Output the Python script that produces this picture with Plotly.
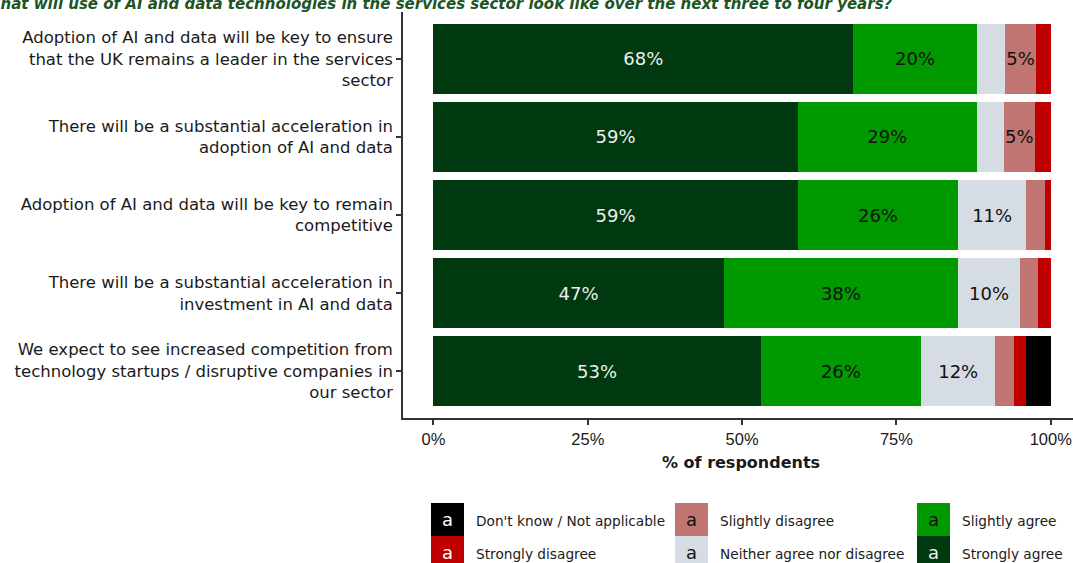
import plotly.graph_objects as go

# Survey statements (y categories, top to bottom)
statements = [
    "Adoption of AI and data will be key to ensure<br>that the UK remains a leader in the services<br>sector",
    "There will be a substantial acceleration in<br>adoption of AI and data",
    "Adoption of AI and data will be key to remain<br>competitive",
    "There will be a substantial acceleration in<br>investment in AI and data",
    "We expect to see increased competition from<br>technology startups / disruptive companies in<br>our sector",
]

# Share of respondents (%) per response, one value per statement
strongly_agree = [68, 59, 59, 47, 53]
slightly_agree = [20, 29, 26, 38, 26]
neither = [4.6, 4.4, 11, 10, 12]
slightly_disagree = [5, 5, 3, 3, 3]
strongly_disagree = [2.4, 2.6, 1, 2, 2]
dont_know = [0, 0, 0, 0, 4]

x_ticks = [0, 25, 50, 75, 100]
x_tick_labels = ["0%", "25%", "50%", "75%", "100%"]

title_text = ("What will use of AI and data technologies in the services sector "
              "look like over the next three to four years?")

# Stacking order (left to right) with fill and in-bar label colours
series = [
    ("Strongly agree", strongly_agree, "#00380F", "#EEEEEE"),
    ("Slightly agree", slightly_agree, "#009900", "#111111"),
    ("Neither agree nor disagree", neither, "#D6DCE4", "#111111"),
    ("Slightly disagree", slightly_disagree, "#C07573", "#111111"),
    ("Strongly disagree", strongly_disagree, "#C00000", "#FFFFFF"),
    ("Don't know / Not applicable", dont_know, "#000000", "#FFFFFF"),
]

# Legend grid, column by column
legend_order = [
    "Don't know / Not applicable", "Strongly disagree",
    "Slightly disagree", "Neither agree nor disagree",
    "Slightly agree", "Strongly agree",
]

FONT = "DejaVu Sans, Liberation Sans, Arial, sans-serif"
NARROW = "Liberation Sans, Arial, sans-serif"
W, H = 1073, 563
L, R, T, B = 403, 0, 12, 145
PW, PH = W - L - R, H - T - B


def px_x(px):
    return (px - L) / PW


def px_y(py):
    return (H - B - py) / PH


fig = go.Figure()
for name, vals, color, tcolor in series:
    fig.add_trace(go.Bar(
        y=statements,
        x=vals,
        name=name,
        orientation="h",
        marker=dict(color=color, line=dict(width=0)),
        text=[f"{v:.0f}%" if v >= 5 else "" for v in vals],
        textposition="inside",
        insidetextanchor="middle",
        textangle=0,
        textfont=dict(family=FONT, size=18, color=tcolor),
        hoverinfo="skip",
    ))

fig.update_layout(
    width=W, height=H,
    margin=dict(l=L, r=R, t=T, b=B, autoexpand=False),
    barmode="stack",
    bargap=0.1,
    showlegend=False,
    plot_bgcolor="white",
    paper_bgcolor="white",
    font=dict(family=FONT, size=16, color="#1A1A1A"),
    uniformtext=dict(minsize=18, mode="show"),
)

fig.update_xaxes(
    range=[-4.94, 103.6],
    tickvals=x_ticks,
    ticktext=x_tick_labels,
    showgrid=False, zeroline=False,
    showline=True, linecolor="#333333", linewidth=1.5,
    ticks="outside", ticklen=5, tickcolor="#333333", tickwidth=1.5,
    tickfont=dict(family=NARROW, size=16.5, color="#1A1A1A"),
    automargin=False,
)
fig.update_yaxes(
    type="category",
    categoryorder="array", categoryarray=statements,
    range=[4.6, -0.6],
    showgrid=False, zeroline=False,
    showline=True, linecolor="#333333", linewidth=1.5,
    ticks="outside", ticklen=5, tickcolor="#333333", tickwidth=1.5,
    tickfont=dict(family=FONT, size=16.5, color="#1A1A1A"),
    automargin=False,
)

annotations = [
    dict(text=f"<b><i>{title_text}</i></b>", xref="paper", yref="paper",
         x=px_x(895), y=px_y(15), xanchor="right", yanchor="bottom",
         showarrow=False, font=dict(family=FONT, size=15.0, color="#1C5526")),
    dict(text="<b>% of respondents</b>", xref="paper", yref="paper",
         x=px_x(741), y=px_y(463), xanchor="center", yanchor="middle",
         showarrow=False, font=dict(family=FONT, size=16, color="#1A1A1A")),
]
shapes = []

colors = {name: (color, tcolor) for name, _, color, tcolor in series}
col_key_x = [431, 675, 917]
row_top = [503, 536]
key_w, key_h = 33, 33
for i, name in enumerate(legend_order):
    c, r = divmod(i, 2)
    fill, tcol = colors[name]
    x0, y0 = col_key_x[c], row_top[r]
    shapes.append(dict(type="rect", xref="paper", yref="paper",
                       x0=px_x(x0), x1=px_x(x0 + key_w),
                       y0=px_y(y0 + key_h), y1=px_y(y0),
                       fillcolor=fill, line=dict(width=0), layer="above"))
    annotations.append(dict(text="a", xref="paper", yref="paper",
                            x=px_x(x0 + key_w / 2), y=px_y(y0 + key_h / 2),
                            xanchor="center", yanchor="middle", showarrow=False,
                            font=dict(family=FONT, size=18, color=tcol)))
    annotations.append(dict(text=name, xref="paper", yref="paper",
                            x=px_x(x0 + key_w + 10), y=px_y(y0 + key_h / 2 + 1),
                            xanchor="left", yanchor="middle", showarrow=False,
                            font=dict(family=FONT, size=13.7, color="#1A1A1A")))

fig.update_layout(annotations=annotations, shapes=shapes)

fig.write_html("out.html")
